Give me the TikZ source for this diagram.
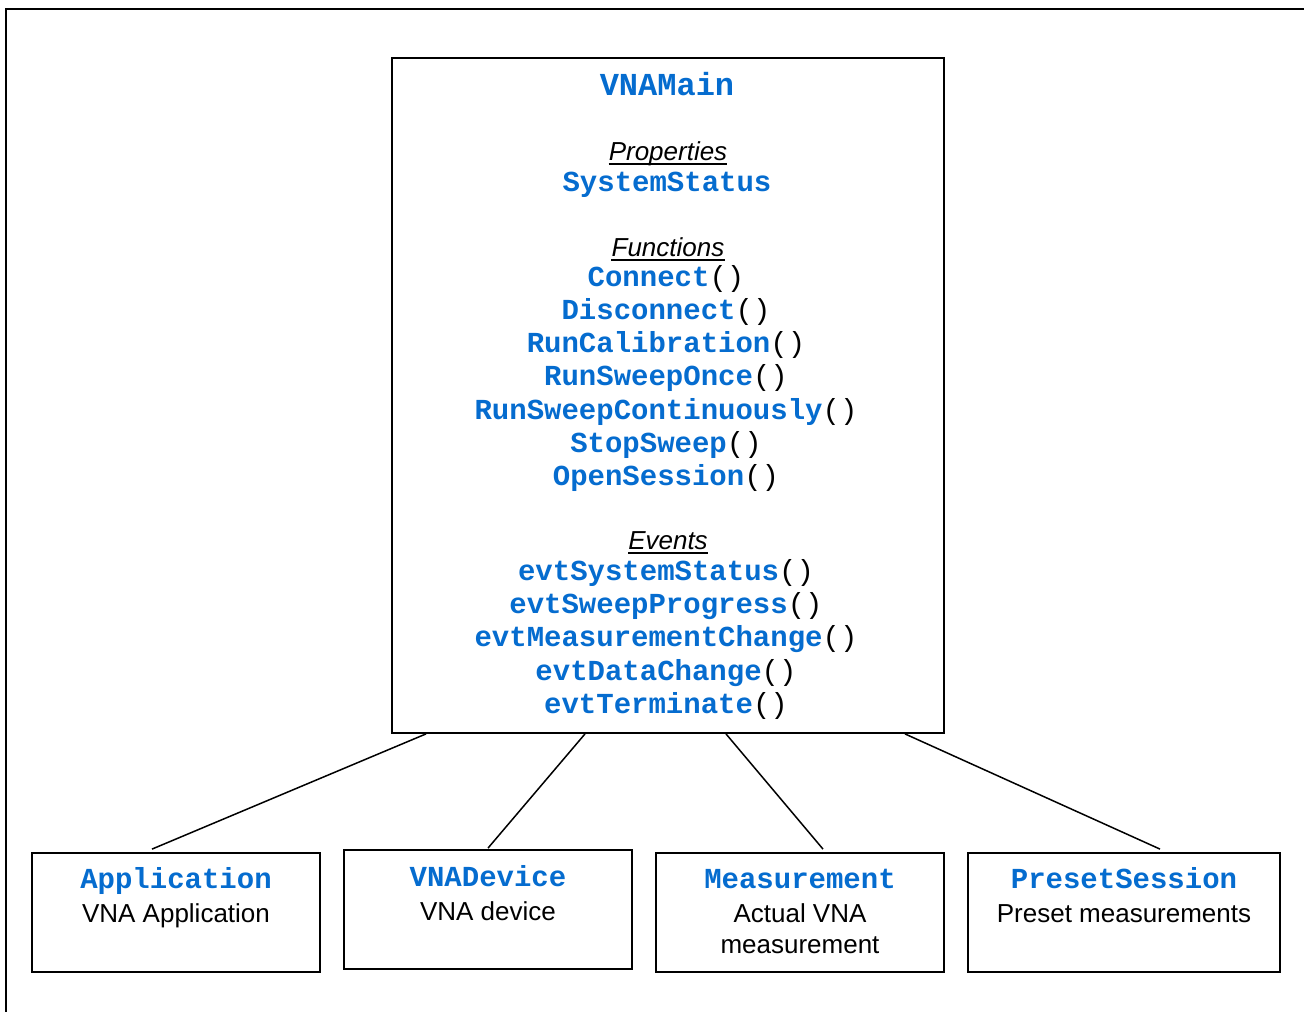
\documentclass[tikz,border=0pt]{standalone}
\usepackage{fontspec}
\setmainfont{Liberation Sans}
\newfontfamily\vnamono{Liberation Mono}
\usetikzlibrary{calc}
\definecolor{vnablue}{RGB}{5,108,207}
\newcommand{\vnacode}[1]{{\vnamono\bfseries\color{vnablue}#1}}
\newcommand{\vnaparen}{{\vnamono()}}
\tikzset{
  boxst/.style={draw, line width=1.8pt, inner sep=0pt},
  codeline/.style={anchor=base, inner sep=0pt, font=\fontsize{29}{34}\selectfont},
  headline/.style={anchor=base, inner sep=0pt, font=\fontsize{26}{30}\selectfont\itshape},
  plainline/.style={anchor=base, inner sep=0pt, font=\fontsize{26}{30}\selectfont},
  link/.style={line width=1.5pt},
  uline/.style={line width=1.6pt}
}
\begin{document}
\begin{tikzpicture}[x=1pt,y=-1pt]
\useasboundingbox (0,0) rectangle (1304,1012);
\fill[white] (0,0) rectangle (1304,1012);
% outer frame (partly visible)
\draw[line width=2pt] (6,1012) -- (6,9) -- (1304,9);

% main box
\node[boxst, minimum width=552, minimum height=675] (main) at (668,395.5) {};
\node[codeline, font=\fontsize{32}{36}\selectfont] (title) at (667,95) {\vnacode{VNAMain}};
\node[headline] (props) at (668,160) {Properties};
\draw[uline] ([yshift=-4pt]props.base west) -- ([yshift=-4pt]props.base east);
\node[codeline] (p1) at (667,191) {\vnacode{SystemStatus}};
\node[headline] (funcs) at (668,256) {Functions};
\draw[uline] ([yshift=-4pt]funcs.base west) -- ([yshift=-4pt]funcs.base east);
\node[codeline] (f1) at (666,286) {\vnacode{Connect}\vnaparen};
\node[codeline] (f2) at (666,319) {\vnacode{Disconnect}\vnaparen};
\node[codeline] (f3) at (666,352) {\vnacode{RunCalibration}\vnaparen};
\node[codeline] (f4) at (666,385) {\vnacode{RunSweepOnce}\vnaparen};
\node[codeline] (f5) at (666,419) {\vnacode{RunSweepContinuously}\vnaparen};
\node[codeline] (f6) at (666,452) {\vnacode{StopSweep}\vnaparen};
\node[codeline] (f7) at (666,485) {\vnacode{OpenSession}\vnaparen};
\node[headline] (evts) at (668,549) {Events};
\draw[uline] ([yshift=-4pt]evts.base west) -- ([yshift=-4pt]evts.base east);
\node[codeline] (e1) at (666,580) {\vnacode{evtSystemStatus}\vnaparen};
\node[codeline] (e2) at (666,613) {\vnacode{evtSweepProgress}\vnaparen};
\node[codeline] (e3) at (666,646) {\vnacode{evtMeasurementChange}\vnaparen};
\node[codeline] (e4) at (666,680) {\vnacode{evtDataChange}\vnaparen};
\node[codeline] (e5) at (666,713) {\vnacode{evtTerminate}\vnaparen};

% bottom boxes
\node[boxst, minimum width=288, minimum height=119] (app) at (176,912.5) {};
\node[codeline] (appt) at (176,888) {\vnacode{Application}};
\node[plainline] (appd) at (176,922) {VNA Application};

\node[boxst, minimum width=288, minimum height=119] (dev) at (488,909.5) {};
\node[codeline] (devt) at (488,886) {\vnacode{VNADevice}};
\node[plainline] (devd) at (488,920) {VNA device};

\node[boxst, minimum width=288, minimum height=119] (meas) at (800,912.5) {};
\node[codeline] (meast) at (800,888) {\vnacode{Measurement}};
\node[plainline] (measd1) at (800,922) {Actual VNA};
\node[plainline] (measd2) at (800,953) {measurement};

\node[boxst, minimum width=312, minimum height=119] (pre) at (1124,912.5) {};
\node[codeline] (pret) at (1124,888) {\vnacode{PresetSession}};
\node[plainline] (pred) at (1124,922) {Preset measurements};

% connectors
\draw[link] ($(main.south)+(-242,0)$) -- ($(app.north)+(-24,-3)$);
\draw[link] ($(main.south)+(-83,0)$) -- ($(dev.north)+(0,-1)$);
\draw[link] ($(main.south)+(58,0)$) -- ($(meas.north)+(23,-3)$);
\draw[link] ($(main.south)+(237,0)$) -- ($(pre.north)+(36,-3)$);
\end{tikzpicture}
\end{document}
